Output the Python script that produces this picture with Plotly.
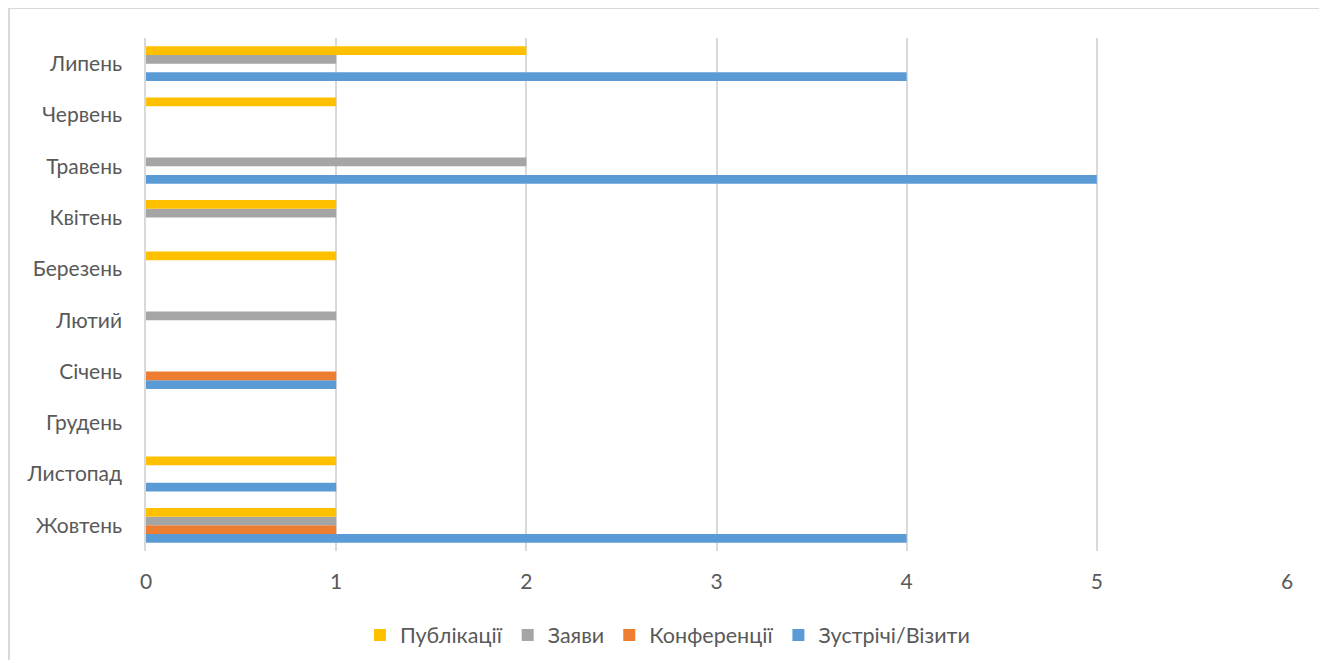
import plotly.graph_objects as go

months = ["Жовтень", "Листопад", "Грудень", "Січень", "Лютий",
          "Березень", "Квітень", "Травень", "Червень", "Липень"]
zustrichi = [4, 1, 0, 1, 0, 0, 0, 5, 0, 4]
konferentsii = [1, 0, 0, 1, 0, 0, 0, 0, 0, 0]
zayavy = [1, 0, 0, 0, 1, 0, 1, 2, 0, 1]
publikatsii = [1, 1, 0, 0, 0, 1, 1, 0, 1, 2]
x_ticks = [0, 1, 2, 3, 4, 5, 6]

series = [
    ("Зустрічі/Візити", zustrichi, "#5B9BD5"),
    ("Конференції", konferentsii, "#ED7D31"),
    ("Заяви", zayavy, "#A5A5A5"),
    ("Публікації", publikatsii, "#FFC000"),
]

fig = go.Figure()
for name, vals, col in series:
    fig.add_trace(go.Bar(y=months, x=vals, name=name, orientation="h",
                         marker=dict(color=col, line=dict(width=0))))

FONT = "Lato, 'Open Sans', sans-serif"
W, H = 1319, 652
fig.update_layout(
    width=W, height=H,
    margin=dict(l=138, r=40, t=30, b=109, autoexpand=False),
    paper_bgcolor="white", plot_bgcolor="white",
    barmode="group", bargap=0.32, bargroupgap=0,
    font=dict(family=FONT, size=21, color="#595959"),
    showlegend=True,
    legend=dict(orientation="h", traceorder="reversed",
                xref="paper", x=0.457, xanchor="center",
                yref="container", y=(H - 627) / H, yanchor="middle",
                font=dict(size=21.5, color="#595959"),
                itemwidth=30, itemsizing="constant"),
    xaxis=dict(range=[0, 6], tickvals=x_ticks, showgrid=True,
               gridcolor="#d9d9d9", gridwidth=1.5, zeroline=False,
               showline=False, ticks="outside", ticklen=12,
               tickcolor="rgba(0,0,0,0)", fixedrange=True),
    yaxis=dict(categoryorder="array", categoryarray=months,
               showgrid=False, zeroline=False, showline=True,
               linecolor="#d9d9d9", linewidth=1.5,
               ticks="outside", ticklen=18, tickcolor="rgba(0,0,0,0)"),
    shapes=[dict(type="rect", xref="paper", yref="paper",
                 x0=(1 - 138) / 1141, x1=(1313 - 138) / 1141,
                 y0=-0.26, y1=543 / 513,
                 line=dict(color="#d9d9d9", width=2))],
)

fig.write_html("out.html")
